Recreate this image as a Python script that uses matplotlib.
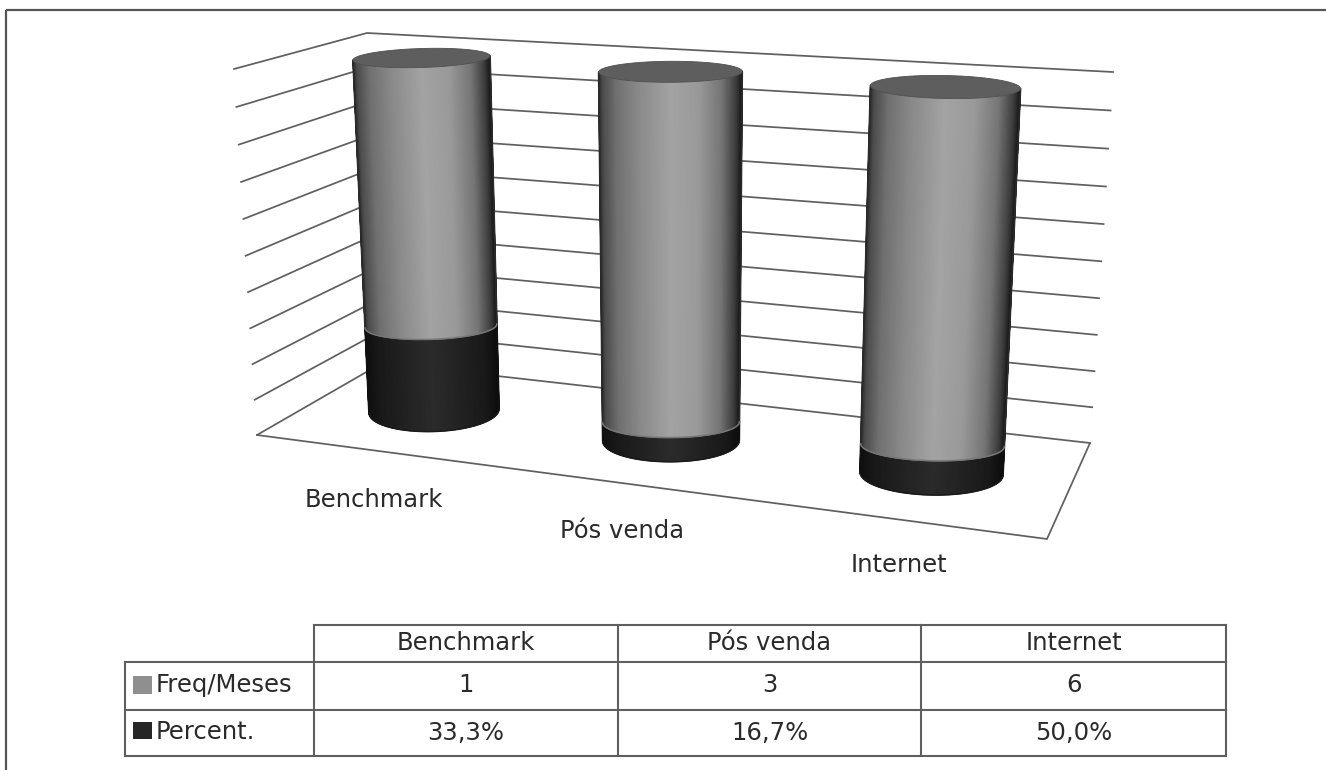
import numpy as np
import matplotlib
matplotlib.use("Agg")
import matplotlib.pyplot as plt
from matplotlib.patches import Polygon, Rectangle

# ---- data
categories = ["Benchmark", "Pós venda", "Internet"]
freq_meses = [1, 3, 6]
percent = [33.3, 16.7, 50.0]
percent_labels = ["33,3%", "16,7%", "50,0%"]
series_names = ["Freq/Meses", "Percent."]

# ---- style / layout
W, H = 1326, 770
plt.rcParams["font.family"] = ["DejaVu Sans"]
LINE = "#5f5f5f"
TXT = "#2a2a2a"
FS = 17.5

fig = plt.figure(figsize=(W / 100, H / 100), dpi=100, facecolor="white")
ax = fig.add_axes([0, 0, 1, 1])
ax.set_xlim(0, W)
ax.set_ylim(H, 0)
ax.axis("off")


def homography(src, dst):
    A, b = [], []
    for (x, y), (X, Y) in zip(src, dst):
        A.append([x, y, 1, 0, 0, 0, -x * X, -y * X]); b.append(X)
        A.append([0, 0, 0, x, y, 1, -x * Y, -y * Y]); b.append(Y)
    h = np.linalg.solve(np.array(A, float), np.array(b, float))
    return np.append(h, 1).reshape(3, 3)


# (category position, stacked fraction) -> picture pixels
PLANE = homography([(0, 0), (2, 0), (2, 1), (0, 1)],
                   [(434, 411), (931.5, 473.5), (945.5, 87), (421.5, 58)])


def project(u, v):
    p = PLANE @ np.array([u, v, 1.0])
    return p[0] / p[2], p[1] / p[2]


# outer frame: only the top and left rules are in the picture
ax.plot([5.5, W], [10, 10], color="#555555", lw=1.6, solid_capstyle="butt", zorder=1)
ax.plot([5.5, 5.5], [10, H], color="#555555", lw=1.6, solid_capstyle="butt", zorder=1)

# walls and floor
LB, LT = np.array([257, 435.]), np.array([234, 69.])
CB, CT = np.array([382, 363.]), np.array([367, 33.])
RB, RT = np.array([1090, 443.]), np.array([1113, 72.])
FR = np.array([1047, 539.])
K = .96
for v in np.linspace(0, 1, 11):
    g = v * K / (1 + (K - 1) * v)
    pts = np.array([LB + (LT - LB) * g, CB + (CT - CB) * g, RB + (RT - RB) * g])
    ax.plot(pts[:, 0], pts[:, 1], color=LINE, lw=1.25, zorder=1)
floor = np.array([LB, FR, RB])
ax.plot(floor[:, 0], floor[:, 1], color=LINE, lw=1.25, zorder=1)


def light(s):
    return np.interp(s, [0, .03, .12, .28, .5, .7, .86, .96, 1],
                     [.16, .30, .44, .54, .64, .60, .46, .24, .10])


def dark(s):
    return np.interp(s, [0, .1, .5, .9, 1], [.06, .10, .17, .10, .05])


def ellipse_pt(cx, cy, rx, ry, tilt, th):
    return cx + rx * np.cos(th), cy + ry * np.sin(th) + tilt * rx * np.cos(th)


def radii(u, v):
    rx = 65 + 3.25 * u + 3.5 * v
    ry_bottom, ry_top = 20.5 + .5 * u, 9.5 + u
    return rx, ry_bottom + (ry_top - ry_bottom) * v


def segment(u, v0, v1, shade, arc0, arc1, z, edge, low_edge):
    """side surface of one cylinder between two stacked fractions"""
    cx0, cy0 = project(u, v0)
    cx1, cy1 = project(u, v1)
    rx0, ry0 = radii(u, v0)
    rx1, ry1 = radii(u, v1)
    tilt = -.03 + .025 * u
    ths = np.linspace(np.pi, 0, 121)
    x0, y0 = ellipse_pt(cx0, cy0, rx0, ry0 * arc0, tilt, ths)
    x1, y1 = ellipse_pt(cx1, cy1, rx1, ry1 * arc1, tilt, ths)
    c = shade((1 + np.cos(ths)) / 2)
    ax.pcolormesh(np.array([x0, x1]), np.array([y0, y1]), np.array([c, c]),
                  cmap="gray", vmin=0, vmax=1, shading="gouraud", zorder=z)
    # smooth silhouette: side edges and the lower arc
    for k in (0, -1):
        ax.plot([x0[k], x1[k]], [y0[k], y1[k]], color=edge, lw=1.3, zorder=z + .1,
                solid_capstyle="round")
    ax.plot(x0, y0, color=low_edge, lw=1.1, zorder=z + .1)


totals = [f + p / 100 for f, p in zip(freq_meses, percent)]
for i, (f, p, tot) in enumerate(zip(freq_meses, percent, totals)):
    split = (p / 100) / tot
    base = 2 + i * 2
    segment(i, 0, split, dark, 1, .75, base, "#101010", "#1a1a1a")
    segment(i, split, 1, light, .75, 1, base + .5, "#2a2a2a", "#777777")
    cx, cy = project(i, 1)
    rx, ry = radii(i, 1)
    tilt = -.03 + .025 * i
    tx, ty = ellipse_pt(cx, cy, rx, ry, tilt, np.linspace(0, 2 * np.pi, 80))
    ax.add_patch(Polygon(np.column_stack([tx, ty]), closed=True, fc="#5e5e5e",
                         ec="#505050", lw=.6, zorder=base + 1))

# category labels on the floor
for (lx, ly), name in zip([(374, 500), (622, 531), (899, 565)], categories):
    ax.text(lx, ly, name, ha="center", va="center", fontsize=FS, color=TXT, zorder=20)

# data table
cols = [314, 618, 921, 1226]
rows = [625, 662, 710, 756]
left = 125
tk = dict(color=LINE, lw=1.5, zorder=15, solid_capstyle="projecting")
ax.plot([cols[0], cols[-1]], [rows[0], rows[0]], **tk)
for y in rows[1:]:
    ax.plot([left, cols[-1]], [y, y], **tk)
for x in cols:
    ax.plot([x, x], [rows[0], rows[-1]], **tk)
ax.plot([left, left], [rows[1], rows[-1]], **tk)

for j, name in enumerate(categories):
    xc = (cols[j] + cols[j + 1]) / 2
    ax.text(xc, (rows[0] + rows[1]) / 2, name, ha="center",
            va="center", fontsize=FS, color=TXT, zorder=20)
    ax.text(xc, (rows[1] + rows[2]) / 2 - 1, str(freq_meses[j]),
            ha="center", va="center", fontsize=FS, color=TXT, zorder=20)
    ax.text(xc, (rows[2] + rows[3]) / 2, percent_labels[j],
            ha="center", va="center", fontsize=FS, color=TXT, zorder=20)

for r, (name, c) in enumerate(zip(series_names, ["#8f8f8f", "#262626"])):
    yc = (rows[r + 1] + rows[r + 2]) / 2 - (1 if r == 0 else 2)
    ax.add_patch(Rectangle((133, yc - 9), 18.5, 18 - r, fc=c, ec="none", zorder=16))
    ax.text(156, (rows[r + 1] + rows[r + 2]) / 2 - 1, name, ha="left", va="center",
            fontsize=FS, color=TXT, zorder=20)

fig.savefig("out.png", dpi=100, facecolor="white")
